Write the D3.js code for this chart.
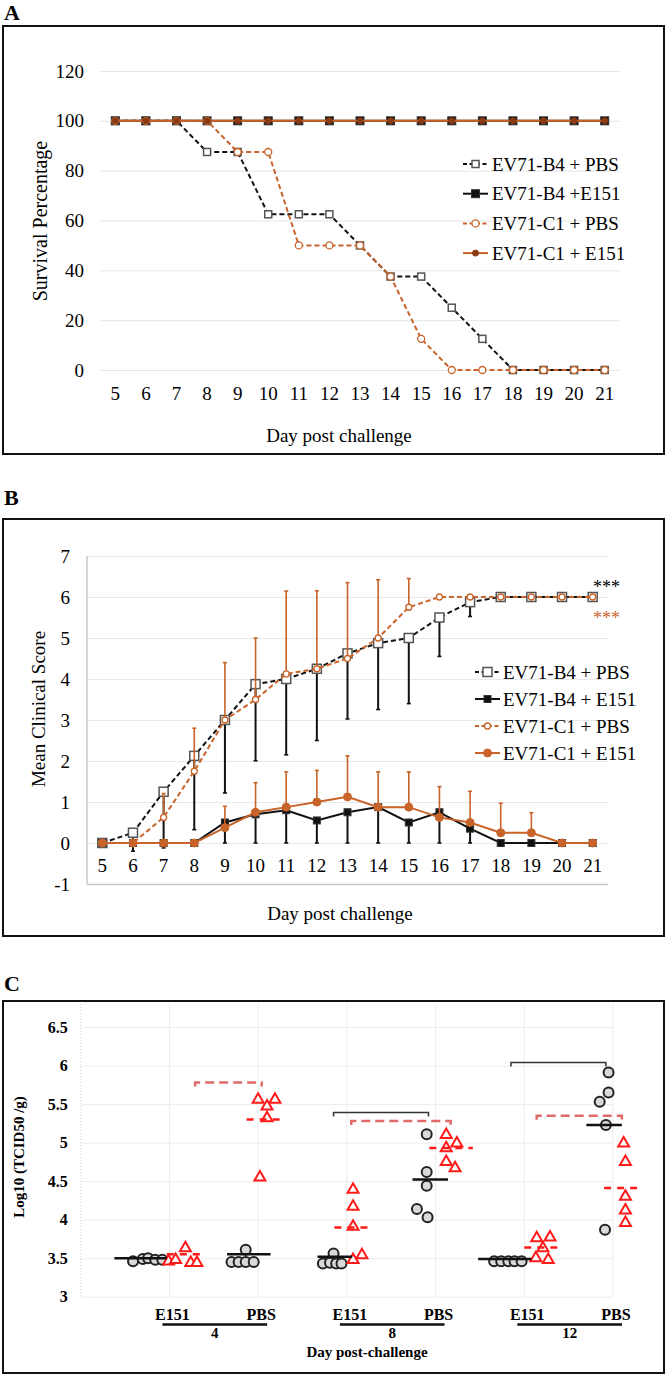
<!DOCTYPE html>
<html>
<head>
<meta charset="utf-8">
<script src="https://cdn.jsdelivr.net/npm/d3@7"></script>
<style>
body { margin: 0; background: #fff; }
text { font-family: "Liberation Serif", "Times New Roman", serif; fill: #000; }
</style>
</head>
<body>
<div id="chart"></div>
<script>
// ---------- data ----------
const days = [5, 6, 7, 8, 9, 10, 11, 12, 13, 14, 15, 16, 17, 18, 19, 20, 21];

// panel A: survival (%)
const survTicks = [0, 20, 40, 60, 80, 100, 120];
const survB4PBS = [100, 100, 100, 87.5, 87.5, 62.5, 62.5, 62.5, 50, 37.5, 37.5, 25, 12.5, 0, 0, 0, 0];
const survB4E151 = [100, 100, 100, 100, 100, 100, 100, 100, 100, 100, 100, 100, 100, 100, 100, 100, 100];
const survC1PBS = [100, 100, 100, 100, 87.5, 87.5, 50, 50, 50, 37.5, 12.5, 0, 0, 0, 0, 0, 0];
const survC1E151 = [100, 100, 100, 100, 100, 100, 100, 100, 100, 100, 100, 100, 100, 100, 100, 100, 100];

// panel B: mean clinical score with one-sided error bars
const scoreTicks = [-1, 0, 1, 2, 3, 4, 5, 6, 7];
const scoreB4PBS = [0, 0.25, 1.25, 2.125, 3, 3.875, 4, 4.25, 4.625, 4.875, 5, 5.5, 5.875, 6, 6, 6, 6];
const errB4PBS = [0, 0.45, 1.37, 1.8, 1.78, 1.87, 1.85, 1.75, 1.6, 1.62, 1.6, 0.95, 0.35, 0, 0, 0, 0];
const scoreB4E151 = [0, 0, 0, 0, 0.5, 0.7, 0.8, 0.55, 0.75, 0.875, 0.5, 0.75, 0.35, 0, 0, 0, 0];
const errB4E151 = [0, 0, 0, 0, 0.5, 0.7, 0.8, 0.55, 0.75, 0.875, 0.5, 0.75, 0.35, 0, 0, 0, 0];
const scoreC1PBS = [0, 0, 0.625, 1.75, 3, 3.5, 4.125, 4.25, 4.5, 5, 5.75, 6, 6, 6, 6, 6, 6];
const errC1PBS = [0, 0, 0.58, 1.05, 1.4, 1.5, 2.02, 1.9, 1.85, 1.42, 0.7, 0, 0, 0, 0, 0, 0];
const scoreC1E151 = [0, 0, 0, 0, 0.375, 0.75, 0.875, 1.0, 1.125, 0.875, 0.875, 0.625, 0.5, 0.25, 0.25, 0, 0];
const errC1E151 = [0, 0, 0, 0, 0.52, 0.72, 0.86, 0.77, 1.0, 0.86, 0.86, 0.75, 0.76, 0.72, 0.49, 0, 0];

// panel C: log10 titres, x = position on the group axis (1..6 = E151/PBS per day)
const titreTicks = [3, 3.5, 4, 4.5, 5, 5.5, 6, 6.5];
const groupLabels = ["E151", "PBS", "E151", "PBS", "E151", "PBS"];
const dayLabels = ["4", "8", "12"];
const circlePts = [
  [0.59, 3.46], [0.70, 3.49], [0.76, 3.50], [0.84, 3.48], [0.92, 3.48],
  [1.70, 3.45], [1.78, 3.45], [1.86, 3.45], [1.95, 3.45], [1.86, 3.61],
  [2.73, 3.43], [2.81, 3.44], [2.88, 3.43], [2.94, 3.43], [2.85, 3.56],
  [3.90, 5.11], [3.90, 4.62], [3.90, 4.44], [3.79, 4.14], [3.91, 4.03],
  [4.66, 3.46], [4.74, 3.46], [4.82, 3.46], [4.89, 3.46], [4.97, 3.46],
  [5.95, 5.91], [5.95, 5.65], [5.85, 5.53], [5.92, 5.23], [5.91, 3.87]
];
const trianglePts = [
  [0.99, 3.46], [1.07, 3.48], [1.18, 3.63], [1.24, 3.44], [1.31, 3.44],
  [2.00, 5.56], [2.19, 5.56], [2.10, 5.47], [2.10, 5.32], [2.02, 4.55],
  [3.07, 4.39], [3.07, 4.17], [3.07, 3.91], [3.07, 3.48], [3.17, 3.54],
  [4.12, 5.10], [4.24, 4.99], [4.12, 4.93], [4.12, 4.75], [4.22, 4.67],
  [5.14, 3.76], [5.29, 3.77], [5.21, 3.63], [5.13, 3.50], [5.27, 3.48],
  [6.12, 4.99], [6.14, 4.75], [6.14, 4.30], [6.14, 4.12], [6.14, 3.96]
];
// medians: [x0, x1, y]
const circleMedians = [[0.38, 0.97, 3.50], [1.65, 2.14, 3.55], [2.67, 3.06, 3.52], [3.74, 4.14, 4.52], [4.48, 5.08, 3.49], [5.70, 6.10, 5.23]];
const triangleMedians = [[0.97, 1.35, 3.55], [1.87, 2.25, 5.30], [2.86, 3.24, 3.90], [3.93, 4.42, 4.93], [5.00, 5.40, 3.64], [5.90, 6.29, 4.41]];
// significance brackets: [x0, x1, y]
const blackBrackets = [[2.85, 3.92, 5.39], [4.85, 5.92, 6.04]];
const redBrackets = [[1.29, 2.04, 5.78], [3.05, 4.17, 5.28], [5.14, 6.10, 5.35]];

const orange = "#c8642a";
const red = "#ff1a1a";

const svg = d3.select("#chart").append("svg")
  .attr("width", 666).attr("height", 1375);

// frames and panel letters
function panelFrame(letter, ly, y, h) {
  svg.append("text").attr("x", 4).attr("y", ly)
    .style("font-size", "22px").style("font-weight", "bold").text(letter);
  svg.append("rect").attr("x", 3).attr("y", y).attr("width", 661).attr("height", h)
    .attr("fill", "none").attr("stroke", "#111").attr("stroke-width", 2);
}
panelFrame("A", 20, 26, 428);
panelFrame("B", 505, 519, 417);
panelFrame("C", 991, 1001, 372);

// marker drawing helper
function drawMarker(g, type, x, y, col, s) {
  if (type === "openSquare") {
    g.append("rect").attr("x", x - s / 2).attr("y", y - s / 2).attr("width", s).attr("height", s)
      .attr("fill", "#fff").attr("stroke", "#555").attr("stroke-width", 1.5);
  } else if (type === "square") {
    g.append("rect").attr("x", x - s / 2).attr("y", y - s / 2).attr("width", s).attr("height", s)
      .attr("fill", "#111").attr("stroke", "#333").attr("stroke-width", 1);
  } else if (type === "openCircle") {
    g.append("circle").attr("cx", x).attr("cy", y).attr("r", s / 2)
      .attr("fill", "#fff").attr("stroke", col).attr("stroke-width", 1.3);
  } else {
    g.append("circle").attr("cx", x).attr("cy", y).attr("r", s / 2)
      .attr("fill", col).attr("stroke", col).attr("stroke-width", 1);
  }
}

function styleAxis(g, size) {
  g.select(".domain").remove();
  g.selectAll("text").style("font-family", "'Liberation Serif', serif").style("font-size", size).attr("fill", "#000");
}

// ================= PANEL A =================
const xA = d3.scaleBand().domain(days).range([100, 620]);
const yA = d3.scaleLinear().domain([0, 120]).range([370, 71]);
const cxA = d => xA(d) + xA.bandwidth() / 2;

const gA = svg.append("g");
gA.append("g").attr("transform", "translate(100,0)")
  .call(d3.axisLeft(yA).tickValues(survTicks).tickSize(-520).tickPadding(16))
  .call(g => styleAxis(g, "19px"))
  .selectAll("line").attr("stroke", "#e6e6e6");
gA.append("g").attr("transform", "translate(0,370)")
  .call(d3.axisBottom(xA).tickSize(0).tickPadding(17))
  .call(g => styleAxis(g, "19px"));

const seriesA = [
  { vals: survB4PBS, col: "#111", dash: "5,3", marker: "openSquare", ms: 7, mcol: "#555", name: "EV71-B4 + PBS" },
  { vals: survB4E151, col: "#111", dash: null, marker: "square", ms: 8, mcol: "#111", name: "EV71-B4 +E151" },
  { vals: survC1PBS, col: orange, dash: "5,3", marker: "openCircle", ms: 7, mcol: orange, name: "EV71-C1 + PBS" },
  { vals: survC1E151, col: orange, dash: null, marker: "circle", ms: 6, mcol: "#8a3a12", name: "EV71-C1 + E151" }
];
const lineA = d3.line().x((d, i) => cxA(days[i])).y(d => yA(d));
seriesA.forEach(s => {
  gA.append("path").datum(s.vals).attr("d", lineA)
    .attr("fill", "none").attr("stroke", s.col).attr("stroke-width", 2)
    .attr("stroke-dasharray", s.dash);
  s.vals.forEach((v, i) => drawMarker(gA, s.marker, cxA(days[i]), yA(v), s.mcol, s.ms));
});
// legend A
seriesA.forEach((s, i) => {
  const ly = 164 + i * 29.7;
  gA.append("line").attr("x1", 463).attr("x2", 488).attr("y1", ly).attr("y2", ly)
    .attr("stroke", s.col).attr("stroke-width", 2).attr("stroke-dasharray", s.dash ? "4,2.5" : null);
  drawMarker(gA, s.marker, 475.5, ly, s.mcol, s.ms);
  gA.append("text").attr("x", 492).attr("y", ly).attr("dy", "0.35em")
    .style("font-size", "19px").text(s.name);
});
gA.append("text").attr("transform", "translate(47,221) rotate(-90)")
  .attr("text-anchor", "middle").style("font-size", "20px").text("Survival Percentage");
gA.append("text").attr("x", 339).attr("y", 442).attr("text-anchor", "middle")
  .style("font-size", "19px").text("Day post challenge");

// ================= PANEL B =================
const xB = d3.scaleBand().domain(days).range([87, 608]);
const yB = d3.scaleLinear().domain([-1, 7]).range([884, 556]);
const cxB = d => xB(d) + xB.bandwidth() / 2;

const gB = svg.append("g");
gB.append("g").attr("transform", "translate(87,0)")
  .call(d3.axisLeft(yB).tickValues(scoreTicks).tickSize(-521).tickPadding(17)
    .tickFormat(d => d < 0 ? "-" + Math.abs(d) : String(d)))
  .call(g => styleAxis(g, "19px"))
  .selectAll("line").attr("stroke", d => d === -1 ? "#c8c8c8" : "#e8e8e8").attr("stroke-width", d => d === -1 ? 1.5 : 1);
gB.append("line").attr("x1", 87).attr("x2", 87).attr("y1", yB(7)).attr("y2", yB(-1))
  .attr("stroke", "#c8c8c8").attr("stroke-width", 1.5);
gB.append("g").attr("transform", `translate(0,${yB(0)})`)
  .call(d3.axisBottom(xB).tickSize(0).tickPadding(16))
  .call(g => styleAxis(g, "19px"));

const seriesB = [
  { vals: scoreB4PBS, err: errB4PBS, dir: -1, col: "#111", ecol: "#111", dash: "5,3", marker: "openSquare", ms: 9, mcol: "#555", name: "EV71-B4 + PBS" },
  { vals: scoreB4E151, err: errB4E151, dir: -1, col: "#111", ecol: "#111", dash: null, marker: "square", ms: 7, mcol: "#111", name: "EV71-B4 + E151" },
  { vals: scoreC1PBS, err: errC1PBS, dir: 1, col: orange, ecol: orange, dash: "5,3", marker: "openCircle", ms: 6, mcol: orange, name: "EV71-C1 + PBS" },
  { vals: scoreC1E151, err: errC1E151, dir: 1, col: orange, ecol: orange, dash: null, marker: "circle", ms: 8, mcol: orange, name: "EV71-C1 + E151" }
];
const lineB = d3.line().x((d, i) => cxB(days[i])).y(d => yB(d));
seriesB.forEach(s => {
  s.vals.forEach((v, i) => {
    if (s.err[i] <= 0) return;
    const x = cxB(days[i]), y2 = yB(v + s.dir * s.err[i]);
    gB.append("line").attr("x1", x).attr("x2", x).attr("y1", yB(v)).attr("y2", y2)
      .attr("stroke", s.ecol).attr("stroke-width", s.dir < 0 ? 2 : 1.6);
    gB.append("line").attr("x1", x - 2).attr("x2", x + 2).attr("y1", y2).attr("y2", y2)
      .attr("stroke", s.ecol).attr("stroke-width", 1.6);
  });
  gB.append("path").datum(s.vals).attr("d", lineB)
    .attr("fill", "none").attr("stroke", s.col).attr("stroke-width", 2)
    .attr("stroke-dasharray", s.dash);
  s.vals.forEach((v, i) => drawMarker(gB, s.marker, cxB(days[i]), yB(v), s.mcol, s.ms));
});
// legend B
seriesB.forEach((s, i) => {
  const ly = 672 + i * 27;
  gB.append("line").attr("x1", 475).attr("x2", 500).attr("y1", ly).attr("y2", ly)
    .attr("stroke", s.col).attr("stroke-width", 2).attr("stroke-dasharray", s.dash ? "4,2.5" : null);
  drawMarker(gB, s.marker, 487.5, ly, s.mcol, s.ms);
  gB.append("text").attr("x", 503).attr("y", ly).attr("dy", "0.35em")
    .style("font-size", "19px").text(s.name);
});
gB.append("text").attr("x", 593).attr("y", 593).style("font-size", "18px").text("***");
gB.append("text").attr("x", 593).attr("y", 624).style("font-size", "18px").style("fill", orange).text("***");
gB.append("text").attr("transform", "translate(45,709) rotate(-90)")
  .attr("text-anchor", "middle").style("font-size", "19px").text("Mean Clinical Score");
gB.append("text").attr("x", 340).attr("y", 920).attr("text-anchor", "middle")
  .style("font-size", "19px").text("Day post challenge");

// ================= PANEL C =================
const xC = d3.scaleLinear().domain([0, 6]).range([80.7, 613]);
const yC = d3.scaleLinear().domain([3, 6.8]).range([1296.7, 1004]);
const gC = svg.append("g");

gC.append("g").attr("transform", "translate(80.7,0)")
  .call(d3.axisLeft(yC).tickValues(titreTicks).tickFormat(d3.format("~g")).tickSize(-532.3).tickPadding(13))
  .call(g => styleAxis(g, "16px"))
  .call(g => g.selectAll("text").style("font-weight", "bold"))
  .selectAll("line").attr("stroke", "#ececec");
gC.append("g")
  .selectAll("line").data([1, 2, 3, 4, 5, 6]).join("line")
  .attr("x1", d => xC(d)).attr("x2", d => xC(d)).attr("y1", yC(6.8)).attr("y2", yC(3))
  .attr("stroke", "#ececec");
gC.append("line").attr("x1", xC(0)).attr("x2", xC(0)).attr("y1", yC(6.8)).attr("y2", yC(3))
  .attr("stroke", "#d4d4d4").attr("stroke-dasharray", "1,2");

// brackets
function bracket(b, col, w, dash) {
  const x0 = xC(b[0]), x1 = xC(b[1]), y = yC(b[2]);
  gC.append("path").attr("d", `M${x0},${y + 4}L${x0},${y}L${x1},${y}L${x1},${y + 4}`)
    .attr("fill", "none").attr("stroke", col).attr("stroke-width", w).attr("stroke-dasharray", dash);
}
blackBrackets.forEach(b => bracket(b, "#333", 1.5, null));
redBrackets.forEach(b => bracket(b, "#e06a6a", 2.5, "9,5"));

// points
gC.append("g").selectAll("circle").data(circlePts).join("circle")
  .attr("cx", d => xC(d[0])).attr("cy", d => yC(d[1])).attr("r", 5)
  .attr("fill", "#d9d9d9").attr("stroke", "#222").attr("stroke-width", 2);
gC.append("g").selectAll("path").data(trianglePts).join("path")
  .attr("d", d3.symbol().type(d3.symbolTriangle).size(52))
  .attr("transform", d => `translate(${xC(d[0])},${yC(d[1])})`)
  .attr("fill", "#fff").attr("stroke", red).attr("stroke-width", 2);

// medians
gC.append("g").selectAll("line").data(circleMedians).join("line")
  .attr("x1", d => xC(d[0])).attr("x2", d => xC(d[1]))
  .attr("y1", d => yC(d[2])).attr("y2", d => yC(d[2]))
  .attr("stroke", "#111").attr("stroke-width", 2.5);
gC.append("g").selectAll("line").data(triangleMedians).join("line")
  .attr("x1", d => xC(d[0])).attr("x2", d => xC(d[1]))
  .attr("y1", d => yC(d[2])).attr("y2", d => yC(d[2]))
  .attr("stroke", red).attr("stroke-width", 2.5).attr("stroke-dasharray", "7,6");

// group axis labels
groupLabels.forEach((t, i) => {
  gC.append("text").attr("x", xC(i + 1) + 3).attr("y", 1320).attr("text-anchor", "middle")
    .style("font-size", "16px").style("font-weight", "bold").text(t);
});
dayLabels.forEach((t, i) => {
  const x0 = xC(2 * i + 1) - 7, x1 = xC(2 * i + 2) + 9;
  gC.append("line").attr("x1", x0).attr("x2", x1).attr("y1", 1324.5).attr("y2", 1324.5)
    .attr("stroke", "#111").attr("stroke-width", 2.5);
  gC.append("text").attr("x", (x0 + x1) / 2).attr("y", 1338).attr("text-anchor", "middle")
    .style("font-size", "15px").style("font-weight", "bold").text(t);
});
gC.append("text").attr("x", 367).attr("y", 1357).attr("text-anchor", "middle")
  .style("font-size", "15px").style("font-weight", "bold").text("Day post-challenge");
gC.append("text").attr("transform", "translate(24,1157) rotate(-90)")
  .attr("text-anchor", "middle").style("font-size", "15px").style("font-weight", "bold")
  .text("Log10 (TCID50 /g)");
</script>
</body>
</html>
